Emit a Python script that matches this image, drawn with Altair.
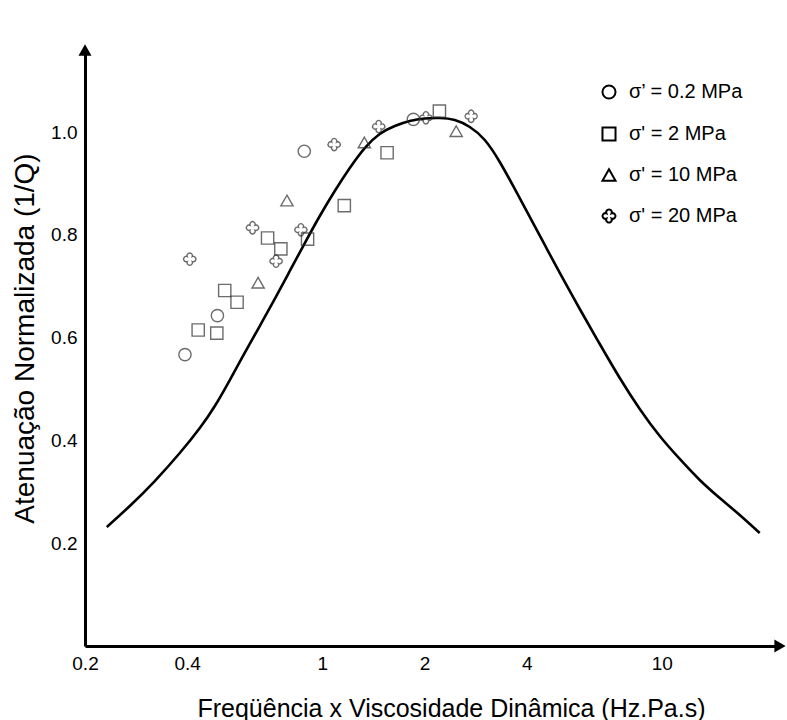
import altair as alt
import pandas as pd

# ---- data ----
curve_x = [0.2318, 0.2710, 0.3210, 0.3804, 0.4357, 0.4825, 0.5340, 0.5909, 0.6543, 0.7246,
           0.8023, 0.8883, 0.9832, 1.0884, 1.2050, 1.3337, 1.4767, 1.6352, 1.8101, 2.0039,
           2.2188, 2.4564, 2.7195, 3.0104, 3.3327, 3.6897, 4.0849, 4.5229, 5.0072, 5.7345,
           6.5674, 7.5214, 8.6129, 9.865, 11.298, 12.939, 14.818, 16.971, 19.436]
curve_y = [0.2316, 0.2725, 0.3211, 0.3756, 0.4243, 0.4671, 0.5177, 0.5703, 0.6228, 0.6754,
           0.7299, 0.7843, 0.8369, 0.8856, 0.9303, 0.9692, 0.9965, 1.0121, 1.0218, 1.0267,
           1.0276, 1.0237, 1.0101, 0.9848, 0.9420, 0.8895, 0.8350, 0.7805, 0.7260, 0.6559,
           0.5878, 0.5216, 0.4613, 0.4087, 0.3640, 0.3231, 0.2880, 0.2550, 0.2199]

s02_x = [0.394, 0.491, 0.885, 1.855]
s02_y = [0.567, 0.643, 0.963, 1.025]
s2_x = [0.431, 0.489, 0.516, 0.561, 0.690, 0.755, 0.905, 1.161, 1.552, 2.213]
s2_y = [0.615, 0.609, 0.692, 0.669, 0.794, 0.773, 0.792, 0.857, 0.960, 1.041]
s10_x = [0.647, 0.787, 1.33, 2.48]
s10_y = [0.707, 0.867, 0.980, 1.002]
s20_x = [0.407, 0.623, 0.731, 0.865, 1.084, 1.466, 2.02, 2.745]
s20_y = [0.753, 0.814, 0.749, 0.810, 0.976, 1.011, 1.028, 1.031]

series_labels = ["σ’ = 0.2 MPa", "σ' = 2 MPa", "σ' = 10 MPa", "σ' = 20 MPa"]

x_ticks = [0.2, 0.4, 1, 2, 4, 10]
y_ticks = [0.2, 0.4, 0.6, 0.8, 1.0]
x_domain = [0.2, 22.3]
y_domain = [0.0, 1.16]

x_title = "Freqüência x Viscosidade Dinâmica (Hz.Pa.s)"
y_title = "Atenuação Normalizada (1/Q)"

FONT = "Liberation Sans, Arial, Helvetica, sans-serif"
FLOWER = ("M0.4,-0.4 A0.433,0.433 0 1,1 0.4,0.4 A0.433,0.433 0 1,1 -0.4,0.4 "
          "A0.433,0.433 0 1,1 -0.4,-0.4 A0.433,0.433 0 1,1 0.4,-0.4 Z")

# ---- tables ----
curve_df = pd.DataFrame({"x": curve_x, "y": curve_y})
pts = []
for lab, xs, ys in zip(series_labels, [s02_x, s2_x, s10_x, s20_x], [s02_y, s2_y, s10_y, s20_y]):
    for a, b in zip(xs, ys):
        pts.append({"x": a, "y": b, "serie": lab})
pts_df = pd.DataFrame(pts)
arrow_up_df = pd.DataFrame({"x": [x_domain[0]], "y": [y_domain[1]]})
arrow_right_df = pd.DataFrame({"x": [x_domain[1]], "y": [y_domain[0]]})

xscale = alt.Scale(type="log", domain=x_domain, nice=False)
yscale = alt.Scale(domain=y_domain, nice=False, zero=False)

xaxis = alt.Axis(values=x_ticks, format="~g", ticks=False, tickSize=0, grid=False,
                 domainColor="black", domainWidth=3, labelFlush=False,
                 labelFont=FONT, labelFontSize=19, labelColor="black", labelPadding=8,
                 title=x_title, titleFont=FONT, titleFontSize=25, titleFontWeight="normal",
                 titleColor="black", titleX=366, titleY=62, titleBaseline="middle",
                 titleAlign="center")
yaxis = alt.Axis(values=y_ticks, format=".1f", ticks=False, tickSize=0, grid=False,
                 domainColor="black", domainWidth=3, labelFlush=False,
                 labelFont=FONT, labelFontSize=19, labelColor="black", labelPadding=8,
                 title=y_title, titleFont=FONT, titleFontSize=28, titleFontWeight="normal",
                 titleColor="black", titleX=-60, titleY=288, titleBaseline="middle",
                 titleAlign="center", titleAngle=270)

curve = alt.Chart(curve_df).mark_line(color="black", strokeWidth=2.6, interpolate="natural").encode(
    x=alt.X("x:Q", scale=xscale, axis=xaxis),
    y=alt.Y("y:Q", scale=yscale, axis=yaxis),
)

points = alt.Chart(pts_df).mark_point(filled=False, size=150, strokeWidth=1.4, color="#2f2f2f").encode(
    x=alt.X("x:Q", scale=xscale),
    y=alt.Y("y:Q", scale=yscale),
    shape=alt.Shape("serie:N",
                    scale=alt.Scale(domain=series_labels,
                                    range=["circle", "square", "triangle-up", FLOWER]),
                    legend=alt.Legend(title=None, orient="none", legendX=514, legendY=32,
                                      padding=0, rowPadding=20, labelOffset=10,
                                      symbolSize=170, symbolStrokeWidth=2,
                                      symbolStrokeColor="black", symbolFillColor="transparent",
                                      symbolOpacity=1,
                                      labelFont=FONT, labelFontSize=20, labelColor="black",
                                      labelLimit=300)),
)

arrow_up = alt.Chart(arrow_up_df).mark_point(shape="triangle-up", filled=True, color="black",
                                               size=170, opacity=1).encode(
    x=alt.X("x:Q", scale=xscale), y=alt.Y("y:Q", scale=yscale))
arrow_right = alt.Chart(arrow_right_df).mark_point(shape="triangle-right", filled=True, color="black",
                                                     size=170, opacity=1).encode(
    x=alt.X("x:Q", scale=xscale), y=alt.Y("y:Q", scale=yscale))

chart = alt.layer(curve, points, arrow_up, arrow_right).properties(
    width=695, height=596,
    autosize=alt.AutoSizeParams(type="none"),
    padding={"left": 85, "top": 50, "right": 7, "bottom": 74},
    background="white",
).configure_view(stroke=None)

chart.save("out.html", embed_options={"renderer": "svg", "actions": False})
